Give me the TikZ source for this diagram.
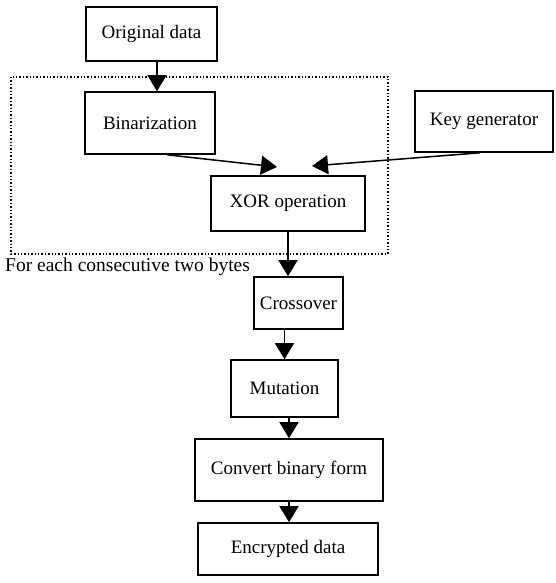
\documentclass[tikz,border=0pt]{standalone}
\usepackage{fontspec}
\setmainfont{Liberation Serif}
\usetikzlibrary{arrows.meta}
\begin{document}
\begin{tikzpicture}[x=1pt,y=-1pt,
  box/.style={draw,line width=1.6pt,inner sep=0pt,font=\fontsize{19}{22}\selectfont,anchor=center},
  arr/.style={line width=1.5pt,-{Triangle[length=16pt,width=19pt]}},
  frame/.style={dotted,line width=1.4pt}]
\useasboundingbox (0,0) rectangle (555,583);
\node[box,minimum width=131pt,minimum height=54pt] (orig) at (151.5,34) {Original data};
\node[box,minimum width=130pt,minimum height=62pt] (bin) at (150,123) {Binarization};
\node[box,minimum width=154pt,minimum height=55pt] (xor) at (288,203.5) {XOR operation};
\node[box,minimum width=138pt,minimum height=61pt] (key) at (484,121.5) {Key generator};
\node[box,minimum width=89pt,minimum height=52pt] (cross) at (298.5,303) {Crossover};
\node[box,minimum width=107pt,minimum height=57pt] (mut) at (284.5,388.5) {Mutation};
\node[box,minimum width=188pt,minimum height=62pt] (conv) at (289,470) {Convert binary form};
\node[box,minimum width=180pt,minimum height=52pt] (enc) at (288,549) {Encrypted data};
\draw[frame] (11,77) rectangle (388,254);
\node[anchor=base west,inner sep=0pt,font=\fontsize{19.5}{22}\selectfont] (lbl) at (5,271) {For each consecutive two bytes};
\coordinate (t1) at (277,167);
\coordinate (t2) at (312,166);
\draw[arr] (orig.south -| 157,0) -- (bin.north -| 157,0);
\draw[arr] ([xshift=17pt]bin.south) -- (t1);
\draw[arr] ([xshift=-4pt]key.south) -- (t2);
\draw[arr] (xor.south) -- (xor.south |- cross.north);
\draw[arr] (mut.north |- cross.south) -- (mut.north);
\draw[arr] (mut.south -| conv.north) -- (conv.north);
\draw[arr] (conv.south) -- (conv.south |- enc.north);
\end{tikzpicture}
\end{document}
